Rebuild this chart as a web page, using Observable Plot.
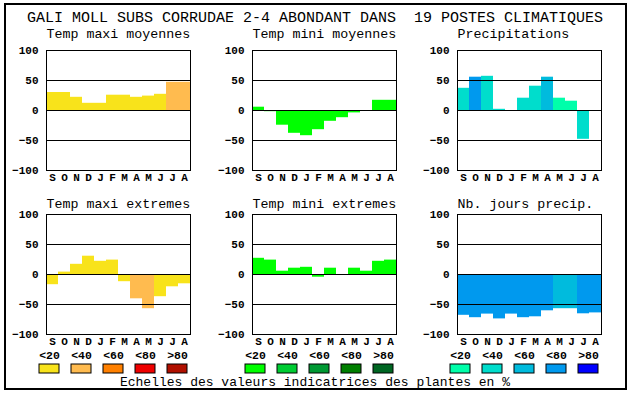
<!DOCTYPE html>
<html>
<head>
<meta charset="utf-8">
<script src="https://cdn.jsdelivr.net/npm/d3@7"></script>
<script src="https://cdn.jsdelivr.net/npm/@observablehq/plot@0.6"></script>
<style>
  html, body { margin: 0; padding: 0; background: #fff; }
  #page { position: relative; width: 630px; height: 394px; background: #fff; overflow: hidden; }
  #border { position: absolute; left: 4px; top: 3px; width: 619px; height: 383px; border: 2px solid #000; }
  .abs { position: absolute; }
  #title { position: absolute; left: 0; width: 630px; top: 11px; text-align: center; font: 15px "Liberation Mono", monospace; line-height: 15px; white-space: pre; color: #000; }
  #footer { position: absolute; left: 0; width: 630px; top: 376px; text-align: center; font: 13px "Liberation Mono", monospace; line-height: 13px; white-space: pre; color: #000; }
</style>
</head>
<body>
<div id="page">
  <div id="border"></div>
  <div id="title"></div>
  <div id="footer"></div>
</div>
<script>
// ---------- data ----------
const mainTitle = "GALI MOLL SUBS CORRUDAE 2-4 ABONDANT DANS  19 POSTES CLIMATIQUES";
const footerText = "Echelles des valeurs indicatrices des plantes en %";
const months = ["S","O","N","D","J","F","M","A","M","J","J","A"];
const classLabels = ["<20","<40","<60","<80",">80"];
const yTicks = [100, 50, 0, -50, -100];
const gridValues = [50, 0, -50];

const warmColors  = ["#f8e31b","#ffbb4f","#ff8000","#ee0000","#b01000"];
const greenColors = ["#00ff00","#00cc33","#009933","#007f00","#006622"];
const blueColors  = ["#00ffaa","#00ddcc","#00bbdd","#0099ee","#0000ff"];

const panelTitles = ["Temp maxi moyennes","Temp mini moyennes","Precipitations",
                     "Temp maxi extremes","Temp mini extremes","Nb. jours precip."];

const tmaxMoy      = [30, 30, 22, 12, 12, 25.5, 25.5, 22, 24, 27, 47, 47];
const tmaxMoyClass = [0, 0, 0, 0, 0, 0, 0, 0, 0, 0, 1, 1];

const tminMoy      = [5.5, -2, -24.5, -38, -42, -32, -18, -12, -4, 0, 17, 17];
const tminMoyClass = [0, 0, 0, 0, 0, 0, 0, 0, 0, 0, 0, 0];

const precip       = [37, 55.5, 57, 2, 0, 20.5, 40.5, 55.5, 20.5, 15.5, -48, 0];
const precipClass  = [1, 3, 1, 1, 1, 1, 1, 2, 0, 0, 1, 1];

const tmaxExt      = [-17, 4, 17, 30.5, 22, 24, -12, -40.5, -57, -37, -20.5, -15.5];
const tmaxExtClass = [0, 0, 0, 0, 0, 0, 0, 1, 1, 0, 0, 0];

const tminExt      = [27, 24, 5.5, 10.5, 12, -4.5, 10.5, 0, 10.5, 5.5, 22, 24];
const tminExtClass = [0, 0, 0, 0, 0, 0, 0, 0, 0, 0, 0, 0];

const nbJours      = [-68, -72, -66, -74, -66, -72, -70.5, -60.5, -57, -57, -65.5, -64];
const nbJoursClass = [3, 3, 3, 3, 3, 3, 3, 3, 2, 2, 3, 3];

// ---------- layout ----------
const FONT = "'Liberation Mono', 'DejaVu Sans Mono', monospace";
const colLeft = [46, 252, 457];   // plot-area left edges
const rowTop = [50, 214];         // plot-area top edges
const titleGap = [13, 7];         // title baseline above plot area
const plotW = 144, plotH = 120;

document.getElementById("title").textContent = mainTitle;
document.getElementById("footer").textContent = footerText;
const page = document.getElementById("page");

const panels = [
  {values: tmaxMoy, classes: tmaxMoyClass, palette: warmColors},
  {values: tminMoy, classes: tminMoyClass, palette: greenColors},
  {values: precip,  classes: precipClass,  palette: blueColors},
  {values: tmaxExt, classes: tmaxExtClass, palette: warmColors},
  {values: tminExt, classes: tminExtClass, palette: greenColors},
  {values: nbJours, classes: nbJoursClass, palette: blueColors}
];

const baseStyle = {fontFamily: FONT, fontSize: "11px", background: "transparent", color: "#000", overflow: "visible"};

panels.forEach((p, k) => {
  const col = k % 3, row = Math.floor(k / 3);
  const mL = 46, mT = 30, mR = 4, mB = 16;
  const rows = months.map((m, i) => ({i, v: p.values[i], c: classLabels[p.classes[i]]}));
  const chart = Plot.plot({
    width: mL + plotW + mR,
    height: mT + plotH + mB,
    marginLeft: mL, marginTop: mT, marginRight: mR, marginBottom: mB,
    style: baseStyle,
    x: {type: "band", domain: d3.range(12), padding: 0},
    y: {domain: [-100, 100]},
    color: {type: "ordinal", domain: classLabels, range: p.palette},
    marks: [
      Plot.barY(rows.filter(d => d.v !== 0), {x: "i", y: "v", fill: "c", inset: 0}),
      Plot.ruleY(gridValues, {stroke: "#000", strokeWidth: 1}),
      Plot.frame({stroke: "#000", strokeWidth: 1}),
      Plot.axisY({ticks: yTicks, tickSize: 0, tickPadding: 8, label: null, fontWeight: "bold", fontSize: 11}),
      Plot.axisX({tickSize: 0, tickPadding: 3, label: null, tickFormat: i => months[i], fontWeight: "bold", fontSize: 11}),
      Plot.text([panelTitles[k]], {frameAnchor: "top-left", textAnchor: "start", lineAnchor: "bottom",
        dy: -titleGap[row], fontSize: 13.3, fontWeight: "normal", fontFamily: FONT, fill: "#000"})
    ]
  });
  chart.classList.add("abs");
  chart.style.left = (colLeft[col] - mL) + "px";
  chart.style.top = (rowTop[row] - mT) + "px";
  page.appendChild(chart);
});

// ---------- legends ----------
const legendPalettes = [warmColors, greenColors, blueColors];
legendPalettes.forEach((pal, col) => {
  const mL = 33, mT = 24, mR = 4, mB = 2;
  const chart = Plot.plot({
    width: mL + 160 + mR,
    height: mT + 9 + mB,
    marginLeft: mL, marginTop: mT, marginRight: mR, marginBottom: mB,
    style: baseStyle,
    x: {type: "band", domain: classLabels, padding: 0},
    color: {type: "ordinal", domain: classLabels, range: pal},
    marks: [
      Plot.cell(classLabels, {x: d => d, fill: d => d, stroke: "#000", strokeWidth: 1, insetLeft: 6, insetRight: 6}),
      Plot.axisX({anchor: "top", tickSize: 0, tickPadding: 6, label: null, fontWeight: "bold", fontSize: 11.5})
    ]
  });
  chart.classList.add("abs");
  chart.style.left = (colLeft[col] - 46) + "px";
  chart.style.top = (364 - mT) + "px";
  page.appendChild(chart);
});
</script>
</body>
</html>
